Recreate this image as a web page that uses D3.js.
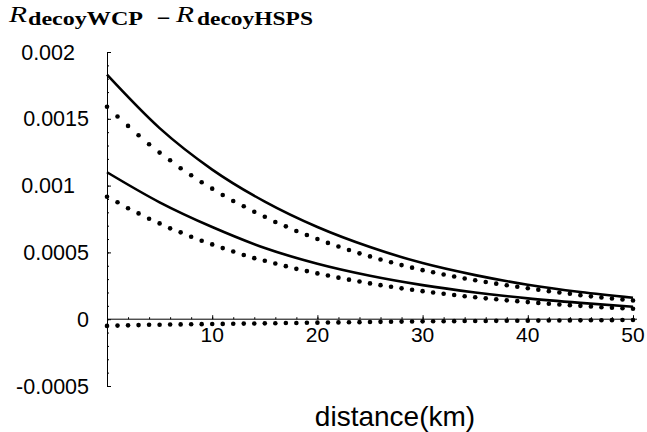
<!DOCTYPE html>
<meta charset="utf-8">
<script src="https://d3js.org/d3.v7.min.js"></script>
<style>
    body { margin: 0; background: #fff; }
    text { fill: #000; }
</style>
<div id="my_dataviz"></div>
<script>

    // data (distance in km, rate difference)
    const solidDist = [0, 5, 10, 15, 20, 25, 30, 35, 40, 45, 50];
    const solidUpper = [0.00183, 0.00143, 0.00112, 0.00088, 0.00069, 0.00054, 0.00042, 0.00033, 0.000258, 0.000203, 0.00016];
    const solidLower = [0.0011, 0.000875, 0.00069, 0.000533, 0.000415, 0.000325, 0.000255, 0.0002, 0.000156, 0.000122, 0.000093];

    const dotDist = d3.range(0, 51);
    const dotUpper = [0.00159, 0.001517, 0.001447, 0.001377, 0.00131, 0.001247, 0.00119, 0.00113, 0.001077, 0.001025,
        0.000977, 0.00093, 0.000885, 0.000845, 0.000804, 0.000767, 0.000727, 0.000695, 0.00066, 0.00063,
        0.0006, 0.000571, 0.000544, 0.000518, 0.000493, 0.00047, 0.000447, 0.000426, 0.000405, 0.000386,
        0.000367, 0.000351, 0.000335, 0.00032, 0.000305, 0.000292, 0.000279, 0.000266, 0.000254, 0.000243,
        0.000232, 0.000221, 0.00021, 0.0002, 0.00019, 0.00018, 0.000171, 0.000163, 0.000155, 0.000147, 0.00014];
    const dotLower = [0.000917, 0.000875, 0.00083, 0.000792, 0.000752, 0.000717, 0.00068, 0.00065, 0.000617, 0.000587,
        0.00056, 0.000532, 0.000507, 0.00048, 0.000457, 0.000437, 0.000417, 0.000397, 0.000377, 0.00036,
        0.000343, 0.000327, 0.000311, 0.000296, 0.000282, 0.000268, 0.000255, 0.000243, 0.000231, 0.00022,
        0.00021, 0.0002, 0.00019, 0.000181, 0.000172, 0.000164, 0.000156, 0.000149, 0.000141, 0.000135,
        0.000128, 0.000122, 0.000116, 0.00011, 0.000105, 0.0001, 0.000095, 0.00009, 0.000086, 0.000082, 0.000078];
    const dotBottom = [-0.00005, -0.000048, -0.000046, -0.000044, -0.000042, -0.000041, -0.00004, -0.000039, -0.000038, -0.000037,
        -0.000036, -0.000035, -0.000034, -0.000033, -0.000032, -0.000031, -0.00003, -0.000029, -0.000028, -0.000027,
        -0.000026, -0.000025, -0.000024, -0.000023, -0.000022, -0.000021, -0.00002, -0.000019, -0.000018, -0.000017,
        -0.000016, -0.0000155, -0.000015, -0.0000145, -0.000014, -0.0000135, -0.000013, -0.0000125, -0.000012, -0.0000115,
        -0.000011, -0.0000105, -0.00001, -0.0000095, -0.000009, -0.0000085, -0.000008, -0.0000075, -0.000007, -0.0000065, -0.000006];

    const xTicks = [10, 20, 30, 40, 50];
    const xMinor = d3.range(2, 51, 2);
    const yTicks = [-0.0005, 0, 0.0005, 0.001, 0.0015, 0.002];
    const yLabels = ["-0.0005", "0", "0.0005", "0.001", "0.0015", "0.002"];
    const yMinor = d3.range(-5, 21).map(d => d / 10000);

    const width = 647, height = 432;

    const svg = d3.select("#my_dataviz")
        .append("svg")
        .attr("width", width)
        .attr("height", height);

    const x = d3.scaleLinear().domain([0, 50]).range([107, 633]);
    const y = d3.scaleLinear().domain([-0.0005, 0.002]).range([386, 52]);

    // y axis, ticks pointing into the plot
    svg.append("g")
        .attr("transform", `translate(${x(0)},0)`)
        .call(d3.axisRight(y).tickValues(yMinor).tickSize(2).tickFormat("").tickSizeOuter(0))
        .call(g => g.selectAll("line,path").attr("stroke", "#000").attr("stroke-width", 1));
    svg.append("g")
        .attr("transform", `translate(${x(0)},0)`)
        .call(d3.axisRight(y).tickValues(yTicks).tickSize(4).tickFormat("").tickSizeOuter(0))
        .call(g => g.select(".domain").remove())
        .call(g => g.selectAll("line").attr("stroke", "#000").attr("stroke-width", 1));

    // y labels
    svg.append("g")
        .selectAll("text")
        .data(yTicks)
        .join("text")
        .attr("x", (d, i) => yLabels[i].length === 5 ? 75 : 89)
        .attr("y", d => y(d) + 7.5)
        .attr("text-anchor", "end")
        .style("font-family", "'Liberation Sans', Arial, sans-serif")
        .style("font-size", "21.5px")
        .text((d, i) => yLabels[i]);

    // x axis along y = 0, ticks pointing up
    svg.append("line")
        .attr("x1", x(0)).attr("x2", x(50) + 4)
        .attr("y1", y(0)).attr("y2", y(0))
        .attr("stroke", "#000").attr("stroke-width", 1);
    svg.append("g")
        .attr("transform", `translate(0,${y(0)})`)
        .call(d3.axisTop(x).tickValues(xMinor).tickSize(2).tickFormat(""))
        .call(g => g.select(".domain").remove())
        .call(g => g.selectAll("line").attr("stroke", "#000"));
    svg.append("g")
        .attr("transform", `translate(0,${y(0)})`)
        .call(d3.axisTop(x).tickValues(xTicks).tickSize(4).tickFormat(""))
        .call(g => g.select(".domain").remove())
        .call(g => g.selectAll("line").attr("stroke", "#000"));

    svg.append("g")
        .selectAll("text")
        .data(xTicks)
        .join("text")
        .attr("x", d => x(d))
        .attr("y", y(0) + 22.5)
        .attr("text-anchor", "middle")
        .style("font-family", "'Liberation Sans', Arial, sans-serif")
        .style("font-size", "21px")
        .text(d => d);

    // solid curves
    const line = d3.line()
        .x(d => x(d[0]))
        .y(d => y(d[1]))
        .curve(d3.curveMonotoneX);

    [solidUpper, solidLower].forEach(vals => {
        svg.append("path")
            .datum(solidDist.map((d, i) => [d, vals[i]]))
            .attr("d", line)
            .attr("fill", "none")
            .attr("stroke", "#000")
            .attr("stroke-width", 2.6);
    });

    // dotted series, one point per km
    [dotUpper, dotLower, dotBottom].forEach(vals => {
        svg.append("g")
            .selectAll("circle")
            .data(dotDist.map((d, i) => [d, vals[i]]))
            .join("circle")
            .attr("cx", d => x(d[0]))
            .attr("cy", d => y(d[1]))
            .attr("r", 2.3)
            .attr("fill", "#000");
    });

    // axis title
    svg.append("text")
        .attr("x", 395)
        .attr("y", 426)
        .attr("text-anchor", "middle")
        .style("font-family", "'Liberation Sans', Arial, sans-serif")
        .style("font-size", "28px")
        .text("distance(km)");

    // y title: R_decoyWCP - R_decoyHSPS
    const title = svg.append("g").style("font-family", "'Liberation Serif', 'DejaVu Serif', serif");
    title.append("text").attr("x", 9).attr("y", 22)
        .style("font-style", "italic").style("font-size", "24px")
        .attr("textLength", 18).attr("lengthAdjust", "spacingAndGlyphs").text("R");
    title.append("text").attr("x", 28).attr("y", 25)
        .style("font-weight", "bold").style("font-size", "18px")
        .attr("textLength", 115).attr("lengthAdjust", "spacingAndGlyphs").text("decoyWCP");
    title.append("text").attr("x", 163.5).attr("y", 24).attr("text-anchor", "middle")
        .style("font-family", "'DejaVu Sans', sans-serif")
        .style("font-size", "18px").text("\u2212");
    title.append("text").attr("x", 176).attr("y", 22)
        .style("font-style", "italic").style("font-size", "24px")
        .attr("textLength", 18).attr("lengthAdjust", "spacingAndGlyphs").text("R");
    title.append("text").attr("x", 197).attr("y", 25)
        .style("font-weight", "bold").style("font-size", "18px")
        .attr("textLength", 116).attr("lengthAdjust", "spacingAndGlyphs").text("decoyHSPS");

</script>
